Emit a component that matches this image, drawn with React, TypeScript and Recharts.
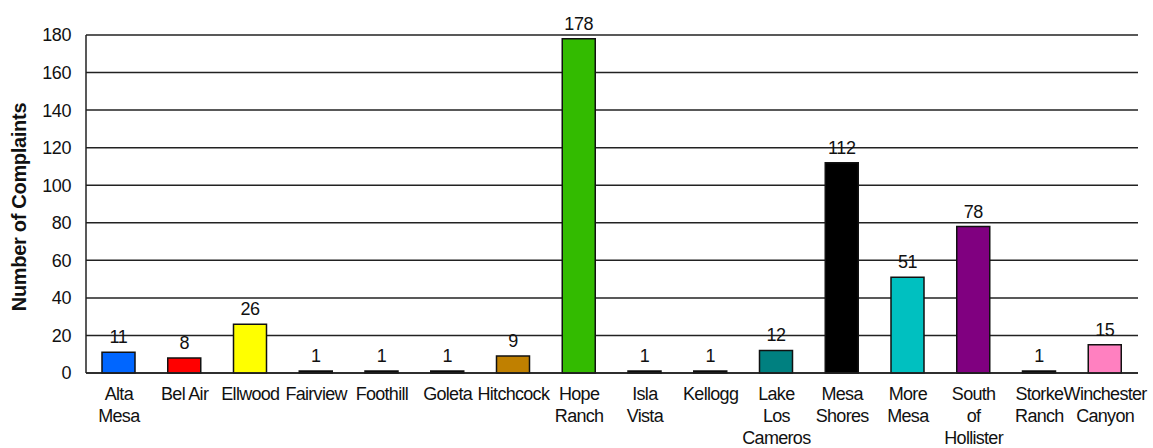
import React from 'react';
import { BarChart, Bar, XAxis, YAxis, CartesianGrid, Cell, LabelList } from 'recharts';

// Complaints per neighbourhood
const areas = [
  'Alta Mesa', 'Bel Air', 'Ellwood', 'Fairview', 'Foothill', 'Goleta', 'Hitchcock', 'Hope Ranch',
  'Isla Vista', 'Kellogg', 'Lake Los Cameros', 'Mesa Shores', 'More Mesa', 'South of Hollister',
  'Storke Ranch', 'Winchester Canyon',
];
const complaints = [11, 8, 26, 1, 1, 1, 9, 178, 1, 1, 12, 112, 51, 78, 1, 15];
const tickLines = [
  ['Alta', 'Mesa'], ['Bel Air'], ['Ellwood'], ['Fairview'], ['Foothill'], ['Goleta'], ['Hitchcock'],
  ['Hope', 'Ranch'], ['Isla', 'Vista'], ['Kellogg'], ['Lake', 'Los', 'Cameros'], ['Mesa', 'Shores'],
  ['More', 'Mesa'], ['South', 'of', 'Hollister'], ['Storke', 'Ranch'], ['Winchester', 'Canyon'],
];
const barColors = [
  '#0066ff', '#ff0000', '#ffff00', '#000000', '#000000', '#000000', '#c08000', '#33bb00',
  '#000000', '#000000', '#008080', '#000000', '#00c0c0', '#800080', '#000000', '#ff80c0',
];
const yTicks = [0, 20, 40, 60, 80, 100, 120, 140, 160, 180];

const data = areas.map((name, i) => ({ name, value: complaints[i] }));

const FONT = '"Liberation Sans", Arial, sans-serif';

const AreaTick = (props: any) => {
  const { x, y, index } = props;
  const lines = tickLines[index] || [];
  return (
    <text x={x} y={y} textAnchor="middle" fill="#111" fontFamily={FONT} fontSize={18} letterSpacing={-0.7}>
      {lines.map((l: string, k: number) => (
        <tspan key={k} x={x} dy={k === 0 ? 19 : 22}>{l}</tspan>
      ))}
    </text>
  );
};

const App = () => (
  <div style={{ position: 'absolute', left: 0, top: 0, width: 1153, height: 448, background: '#fff' }}>
    <BarChart
      width={1153}
      height={448}
      data={data}
      margin={{ top: 35, right: 15, bottom: 0, left: 0 }}
    >
      <CartesianGrid vertical={false} stroke="#222" strokeWidth={1.5} />
      <XAxis
        dataKey="name"
        interval={0}
        tickLine={false}
        axisLine={{ stroke: '#222', strokeWidth: 1.5 }}
        tick={<AreaTick />}
        height={75}
      />
      <YAxis
        domain={[0, 180]}
        ticks={yTicks}
        width={86}
        tickLine={false}
        axisLine={{ stroke: '#222', strokeWidth: 1.5 }}
        tickMargin={9}
        tick={{ fill: '#111', fontSize: 18, fontFamily: FONT, letterSpacing: -0.4 }}
        label={{
          content: () => (
            <text
              x={26}
              y={207}
              transform="rotate(-90 26 207)"
              textAnchor="middle"
              fontFamily={FONT}
              fontSize={20}
              fontWeight="bold"
              fill="#111"
              letterSpacing={-0.3}
            >
              Number of Complaints
            </text>
          ),
        }}
      />
      <YAxis
        yAxisId="frame"
        orientation="right"
        width={0}
        tick={false}
        tickLine={false}
        axisLine={{ stroke: '#222', strokeWidth: 1.5 }}
      />
      <Bar dataKey="value" barSize={33} stroke="#111" strokeWidth={1.5} isAnimationActive={false}>
        {data.map((d, i) => (
          <Cell key={d.name} fill={barColors[i]} />
        ))}
        <LabelList
          dataKey="value"
          position="top"
          offset={9}
          fill="#111"
          fontSize={18}
          fontFamily={FONT}
          letterSpacing={-0.4}
        />
      </Bar>
    </BarChart>
  </div>
);

export default App;
